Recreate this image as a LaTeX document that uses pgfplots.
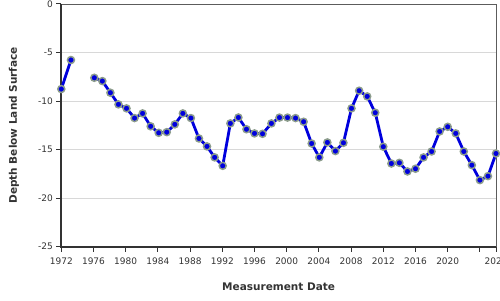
\documentclass[border=0pt]{standalone}
\usepackage{pgfplots}
\pgfplotsset{compat=1.18}
\usepackage{fontspec}
\setmainfont{DejaVu Sans}
\definecolor{txt}{HTML}{333333}
\definecolor{gridc}{HTML}{D8D8D8}
\definecolor{lineb}{HTML}{0000DD}
\definecolor{halo}{HTML}{8C9C8C}
\begin{document}
\begin{tikzpicture}[x=1pt,y=1pt]
\begin{axis}[
  at={(61.3pt,53.3pt)}, anchor=south west,
  scale only axis, width=434.7pt, height=242.7pt,
  xmin=1972, xmax=2026, ymin=-25, ymax=0,
  xtick={1972,1976,1980,1984,1988,1992,1996,2000,2004,2008,2012,2016,2020,2024,2026},
  xticklabels={1972,1976,1980,1984,1988,1992,1996,2000,2004,2008,2012,2016,2020,{},2026},
  ytick={0,-5,-10,-15,-20,-25},
  /pgf/number format/assume math mode=true,
  /pgf/number format/1000 sep={},
  tick label style={font=\fontsize{9}{10}\selectfont, text=txt},
  xticklabel style={yshift=-2.5pt},
  tick pos=left, tick align=outside, major tick length=5pt,
  tick style={draw=txt, line width=1pt},
  ymajorgrids, grid style={draw=gridc, line width=0.8pt},
  axis line style={draw=txt!80, line width=0.8pt},
  xlabel={Measurement Date}, ylabel={Depth Below Land Surface},
  label style={font=\fontsize{10.5}{12}\selectfont\bfseries, text=txt},
  xlabel style={at={([yshift=-40.3pt]axis description cs:0.5,0)}, anchor=center},
  ylabel style={at={([xshift=-47.3pt]axis description cs:0,0.5)}, anchor=center},
  clip=false,
  unbounded coords=jump,
]
\draw[txt, line width=2pt] (rel axis cs:0,1) -- (rel axis cs:0,0) -- (rel axis cs:1,0);
\addplot[lineb, line width=2.8pt, mark=*, mark size=3.5pt,
  mark options={fill=lineb, draw=halo, line width=1.5pt}] table {
x y
1972.0 -8.76
1973.2 -5.77
1974.5 nan
1976.1 -7.6
1977.1 -7.94
1978.1 -9.14
1979.1 -10.34
1980.1 -10.75
1981.1 -11.75
1982.1 -11.27
1983.1 -12.6
1984.1 -13.27
1985.1 -13.2
1986.1 -12.4
1987.1 -11.27
1988.1 -11.75
1989.1 -13.85
1990.1 -14.67
1991.05 -15.8
1992.05 -16.67
1993.0 -12.3
1994.0 -11.69
1995.0 -12.9
1996.0 -13.33
1997.0 -13.37
1998.1 -12.3
1999.1 -11.7
2000.1 -11.7
2001.1 -11.75
2002.1 -12.13
2003.1 -14.37
2004.05 -15.8
2005.05 -14.26
2006.05 -15.15
2007.05 -14.3
2008.05 -10.75
2009.0 -8.93
2010.0 -9.52
2011.0 -11.2
2012.0 -14.7
2013.0 -16.43
2014.0 -16.36
2015.0 -17.25
2016.0 -16.97
2017.0 -15.8
2018.0 -15.19
2019.0 -13.13
2020.0 -12.65
2021.0 -13.33
2022.0 -15.19
2023.0 -16.6
2024.0 -18.14
2025.0 -17.73
2026.0 -15.4
};
\end{axis}
\pgfresetboundingbox
\useasboundingbox (0,0) rectangle (500,300);
\end{tikzpicture}
\end{document}
